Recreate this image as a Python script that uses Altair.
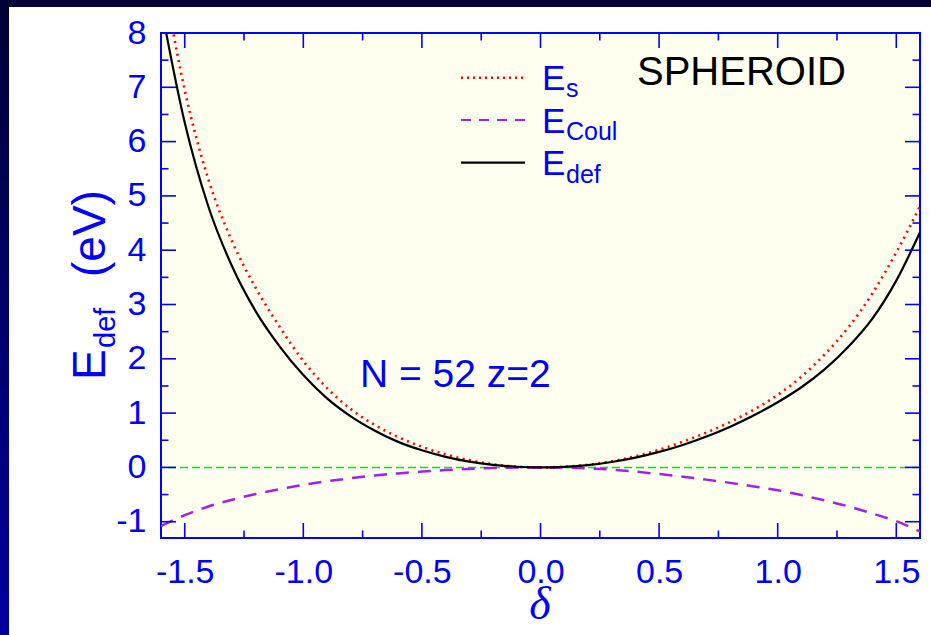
import altair as alt
import pandas as pd

# ---------------- data ----------------
delta = [-1.6, -1.5, -1.4, -1.3, -1.2, -1.1, -1.0, -0.9, -0.8, -0.7, -0.6, -0.5, -0.4, -0.3, -0.2, -0.1,
         0.0, 0.1, 0.2, 0.3, 0.4, 0.5, 0.6, 0.7, 0.8, 0.9, 1.0, 1.1, 1.2, 1.3, 1.4, 1.5, 1.6]
e_s = [9.27, 6.95, 5.30, 4.16, 3.30, 2.59, 1.96, 1.46, 1.075, 0.784, 0.558, 0.38, 0.24, 0.133, 0.058, 0.0145,
       0.0, 0.012, 0.050, 0.113, 0.205, 0.325, 0.472, 0.642, 0.838, 1.065, 1.335, 1.67, 2.09, 2.59, 3.21, 3.96, 4.81]
e_coul = [-1.08, -0.88, -0.72, -0.595, -0.49, -0.40, -0.32, -0.255, -0.20, -0.15, -0.11, -0.077, -0.049, -0.028, -0.012, -0.003,
          0.0, -0.004, -0.018, -0.042, -0.078, -0.122, -0.17, -0.225, -0.285, -0.35, -0.42, -0.51, -0.61, -0.72, -0.85, -0.99, -1.18]
e_def = [8.50, 6.35, 4.80, 3.70, 2.87, 2.23, 1.70, 1.27, 0.94, 0.68, 0.47, 0.315, 0.195, 0.106, 0.046, 0.012,
         0.0, 0.0105, 0.043, 0.099, 0.179, 0.285, 0.414, 0.568, 0.749, 0.96, 1.20, 1.476, 1.814, 2.231, 2.744, 3.44, 4.33]

x_major = [-1.5, -1.0, -0.5, 0.0, 0.5, 1.0, 1.5]
x_minor = [-1.25, -0.75, -0.25, 0.25, 0.75, 1.25]
y_major = [-1, 0, 1, 2, 3, 4, 5, 6, 7, 8]
y_minor = [-0.5, 0.5, 1.5, 2.5, 3.5, 4.5, 5.5, 6.5, 7.5]
zero_level = [0.0]

x_domain = [-1.6, 1.6]
y_domain = [-1.3, 8.0]

# ---------------- styling ----------------
FONT = "Liberation Sans"
BLUE = "#0000ff"
W, H = 759, 505

df = pd.DataFrame({"delta": delta, "E_s": e_s, "E_Coul": e_coul, "E_def": e_def})
one = pd.DataFrame({"k": [0]})

xs = alt.Scale(domain=x_domain, nice=False, zero=False)
ys = alt.Scale(domain=y_domain, nice=False, zero=False)

x_axis = alt.Axis(
    values=x_major,
    labelExpr="datum.value < 0 ? '-' + format(-datum.value, '.1f') : format(datum.value, '.1f')",
    ticks=False, tickSize=0, domain=False, grid=False, title=None,
    labelFont=FONT, labelFontSize=34, labelColor=BLUE, labelPadding=17,
    labelFlush=False, labelOverlap=False,
)
y_axis = alt.Axis(
    values=y_major,
    labelExpr="datum.value < 0 ? '-' + format(-datum.value, 'd') : format(datum.value, 'd')",
    ticks=False, tickSize=0, domain=False, grid=False, title=None,
    labelFont=FONT, labelFontSize=34, labelColor=BLUE, labelPadding=15,
    labelFlush=False, labelOverlap=False,
)


def X(field):
    return alt.X(field, type="quantitative", scale=xs, axis=x_axis)


def Y(field):
    return alt.Y(field, type="quantitative", scale=ys, axis=y_axis)


# ---------------- frame decoration (navy border) ----------------
navy_top = alt.Chart(one).mark_rect(color="#000038").encode(
    x=alt.value(-161), x2=alt.value(W + 11), y=alt.value(-33), y2=alt.value(-26))
navy_left = alt.Chart(one).mark_rect(
    color=alt.Gradient(gradient="linear",
                       stops=[alt.GradientStop(color="#000035", offset=0),
                              alt.GradientStop(color="#0000a0", offset=1)],
                       x1=0, x2=0, y1=0, y2=1)
).encode(x=alt.value(-161), x2=alt.value(-152), y=alt.value(-33), y2=alt.value(H + 97))

# ---------------- curves ----------------
base = alt.Chart(df)
zero_line = alt.Chart(pd.DataFrame({"y0": zero_level})).mark_rule(
    color="#00e400", strokeWidth=1.5, strokeDash=[8, 4]).encode(y=Y("y0"))
coul_line = base.mark_line(color="#a020f0", strokeWidth=2.5, strokeDash=[13, 9],
                           clip=True, interpolate="monotone").encode(x=X("delta"), y=Y("E_Coul"))
es_line = base.mark_line(color="#ff0000", strokeWidth=2.6, strokeDash=[2, 4.5],
                         clip=True, interpolate="monotone").encode(x=X("delta"), y=Y("E_s"))
def_line = base.mark_line(color="#000000", strokeWidth=2.2,
                          clip=True, interpolate="monotone").encode(x=X("delta"), y=Y("E_def"))

# ---------------- inward ticks ----------------
TICK = dict(color=BLUE, strokeWidth=1.6)
xmaj = pd.DataFrame({"v": x_major})
xmin = pd.DataFrame({"v": x_minor})
ymaj = pd.DataFrame({"v": y_major})
ymin = pd.DataFrame({"v": y_minor})
ticks = [
    alt.Chart(xmaj).mark_rule(**TICK).encode(x=X("v"), y=alt.value(H), y2=alt.value(H - 15)),
    alt.Chart(xmaj).mark_rule(**TICK).encode(x=X("v"), y=alt.value(0), y2=alt.value(15)),
    alt.Chart(xmin).mark_rule(**TICK).encode(x=X("v"), y=alt.value(H), y2=alt.value(H - 7.5)),
    alt.Chart(xmin).mark_rule(**TICK).encode(x=X("v"), y=alt.value(0), y2=alt.value(7.5)),
    alt.Chart(ymaj).mark_rule(**TICK).encode(y=Y("v"), x=alt.value(0), x2=alt.value(15)),
    alt.Chart(ymaj).mark_rule(**TICK).encode(y=Y("v"), x=alt.value(W), x2=alt.value(W - 15)),
    alt.Chart(ymin).mark_rule(**TICK).encode(y=Y("v"), x=alt.value(0), x2=alt.value(7.5)),
    alt.Chart(ymin).mark_rule(**TICK).encode(y=Y("v"), x=alt.value(W), x2=alt.value(W - 7.5)),
]


# ---------------- texts ----------------
def label(txt, x, y, size, color=BLUE, angle=0, font=FONT, italic=False, align="left"):
    kw = dict(text=txt, align=align, baseline="alphabetic", fontSize=size, color=color, font=font)
    if angle:
        kw["angle"] = angle
    if italic:
        kw["fontStyle"] = "italic"
    return alt.Chart(one).mark_text(**kw).encode(x=alt.value(x), y=alt.value(y))


texts = [
    # y-axis title  E_def (eV)
    label("E", -56, 347, 46, angle=270),
    label("def", -46, 315, 29, angle=270),
    label("(eV)", -56, 244, 46, angle=270),
    # x-axis title
    label("δ", 379, 586, 46, font="Liberation Serif", italic=True, align="center"),
    # annotations
    label("SPHEROID", 476, 52, 40, color="#000000"),
    label("N = 52 z=2", 199, 354, 39),
    # legend text
    label("E", 381, 57, 35), label("s", 405, 64.3, 25),
    label("E", 381, 99.7, 35), label("Coul", 405, 107, 25),
    label("E", 381, 142, 35), label("def", 405, 149.7, 25),
]

legend_lines = [
    alt.Chart(one).mark_rule(color="#ff0000", strokeWidth=2.6, strokeDash=[2, 4]).encode(
        x=alt.value(300), x2=alt.value(364), y=alt.value(44.7)),
    alt.Chart(one).mark_rule(color="#a020f0", strokeWidth=2.2, strokeDash=[10, 8]).encode(
        x=alt.value(300), x2=alt.value(364), y=alt.value(87)),
    alt.Chart(one).mark_rule(color="#000000", strokeWidth=2.2).encode(
        x=alt.value(300), x2=alt.value(364), y=alt.value(129.7)),
]

chart = alt.layer(
    navy_top, navy_left,
    zero_line, coul_line, es_line, def_line,
    *ticks, *legend_lines, *texts,
).properties(
    width=W, height=H,
    autosize=alt.AutoSizeParams(type="none"),
    padding={"left": 161, "top": 33, "right": 11, "bottom": 97},
    background="white",
).configure_view(
    fill="#fffff0", stroke=BLUE, strokeWidth=2,
)

chart.save("out.html", embed_options={"renderer": "svg", "actions": False})
